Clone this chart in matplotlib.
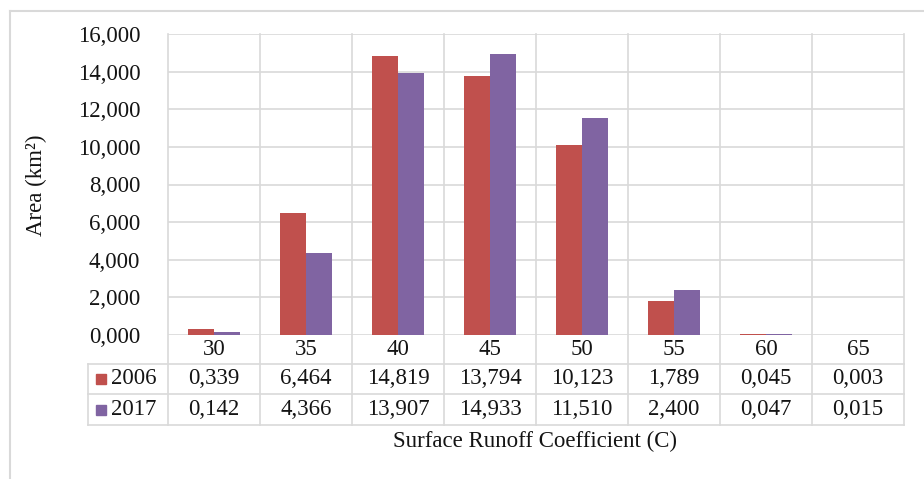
import matplotlib
matplotlib.use('Agg')
import matplotlib.pyplot as plt
import numpy as np

# data (values shown with comma decimals)
categories = ['30', '35', '40', '45', '50', '55', '60', '65']
series_names = ['2006', '2017']
area_2006 = [0.339, 6.464, 14.819, 13.794, 10.123, 1.789, 0.045, 0.003]
area_2017 = [0.142, 4.366, 13.907, 14.933, 11.510, 2.400, 0.047, 0.015]
yticks = [0, 2, 4, 6, 8, 10, 12, 14, 16]

colors = ['#C0504D', '#8064A2']
grid_c = '#D9D9D9'
text_c = '#141414'
fs = 16.5

plt.rcParams['font.family'] = ['Liberation Serif', 'DejaVu Serif']


def fmt(v):
    return '{:.3f}'.format(v).replace('.', ',')


W, H = 924, 479
fig = plt.figure(figsize=(W / 100, H / 100), dpi=100)
# plot area in pixels: left 168, right 904, top 34, bottom 335
ax = fig.add_axes([168 / W, (H - 335) / H, (904 - 168) / W, (335 - 34) / H])

x = np.arange(len(categories))
bw = 0.285
ax.bar(x - bw / 2, area_2006, bw, color=colors[0], zorder=3)
ax.bar(x + bw / 2, area_2017, bw, color=colors[1], zorder=3)

ax.set_xlim(-0.5, len(categories) - 0.5)
ax.set_ylim(0, 16)
ax.set_yticks(yticks)
ax.set_yticklabels([fmt(v) for v in yticks], fontsize=fs, color=text_c)
ax.tick_params(axis='y', length=0, pad=20)
ax.set_xticks([])
for s in ax.spines.values():
    s.set_visible(False)
ax.yaxis.grid(True, color=grid_c, lw=1.2, zorder=0)

# data table under the plot, y in axes fraction
ph = 335 - 34
def ay(py):
    return (335 - py) / ph

def dx(px):
    return -0.5 + (px - 168) / 92.0

tr = ax.get_xaxis_transform()
row_lines = [ay(364), ay(394), ay(425)]
for xv in np.arange(-0.5, len(categories), 1.0):
    ax.plot([xv, xv], [row_lines[-1], 1], transform=tr, color=grid_c, lw=1.2, clip_on=False, zorder=1)
for yv in row_lines:
    ax.plot([dx(88), len(categories) - 0.5], [yv, yv], transform=tr, color=grid_c, lw=1.2, clip_on=False)
ax.plot([dx(88), dx(88)], [row_lines[0], row_lines[-1]], transform=tr, color=grid_c, lw=1.2, clip_on=False)

cat_y = (0 + row_lines[0]) / 2
for i, c in enumerate(categories):
    ax.text(i, cat_y, c, transform=tr, ha='center', va='center', fontsize=fs, color=text_c)

rows = [area_2006, area_2017]
for r, vals in enumerate(rows):
    yc = (row_lines[r] + row_lines[r + 1]) / 2
    ax.plot([dx(101)], [yc], transform=tr, marker='s', ms=7, color=colors[r], clip_on=False, ls='none')
    ax.text(dx(111), yc, series_names[r], transform=tr, ha='left', va='center', fontsize=fs, color=text_c)
    for i, v in enumerate(vals):
        ax.text(i, yc, fmt(v), transform=tr, ha='center', va='center', fontsize=fs, color=text_c)

fig.text(535 / W, 1 - 441 / H, 'Surface Runoff Coefficient (C)', ha='center', va='center', fontsize=fs, color=text_c)
fig.text(36 / W, 1 - 185 / H, 'Area (km²)', ha='center', va='center', rotation=90, fontsize=fs, color=text_c)

# chart border (cut off on right and bottom in the reference)
fig.add_artist(plt.Line2D([10 / W, 1], [1 - 11 / H, 1 - 11 / H], transform=fig.transFigure, color=grid_c, lw=1.5))
fig.add_artist(plt.Line2D([10 / W, 10 / W], [0, 1 - 11 / H], transform=fig.transFigure, color=grid_c, lw=1.5))

fig.savefig('out.png', dpi=100, facecolor='white')
